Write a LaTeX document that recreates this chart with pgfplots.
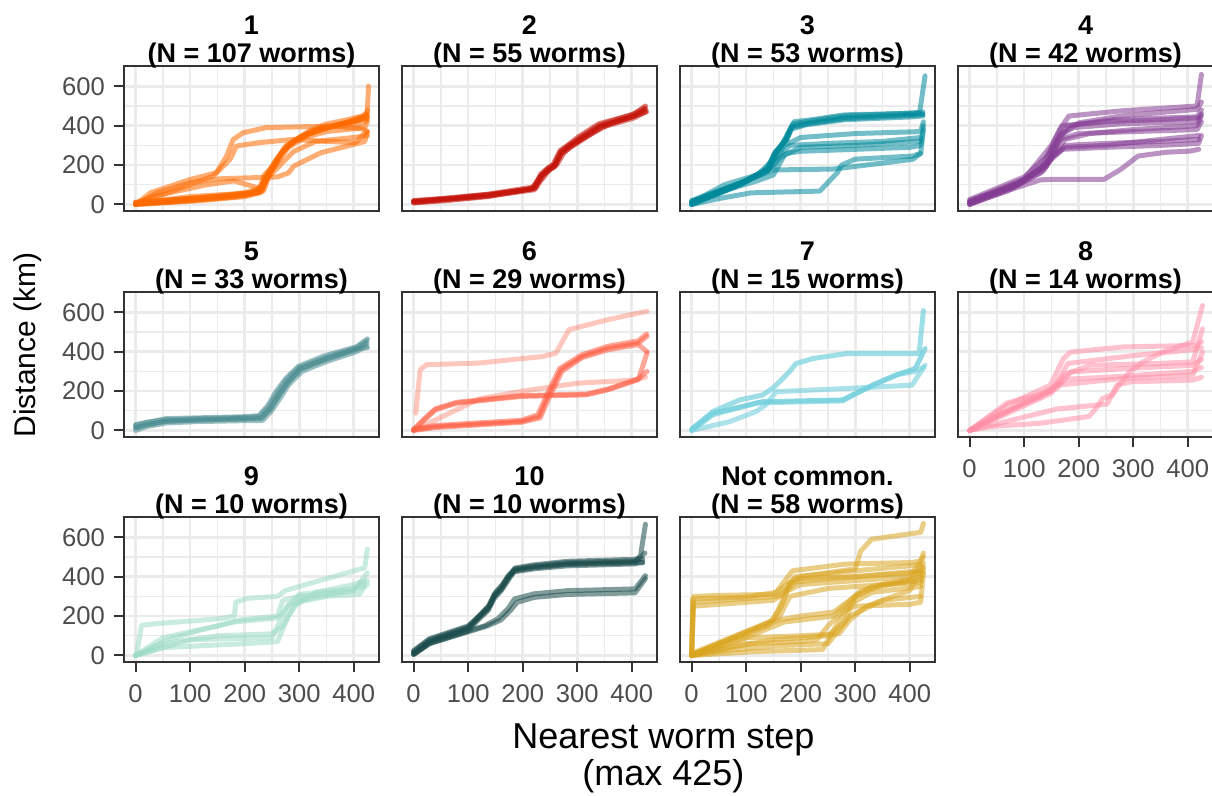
\documentclass[border=0pt]{standalone}
\usepackage{pgfplots}
\pgfplotsset{compat=1.18}
\usepackage{fontspec}
\setmainfont{Liberation Sans}
\definecolor{gridc}{HTML}{EBEBEB}
\definecolor{axc}{HTML}{333333}
\definecolor{tickc}{HTML}{4D4D4D}
\definecolor{c1}{HTML}{FF6A00}
\definecolor{c2}{HTML}{C4140A}
\definecolor{c3}{HTML}{00899A}
\definecolor{c4}{HTML}{843C93}
\definecolor{c5}{HTML}{4B8C91}
\definecolor{c6}{HTML}{FF5F45}
\definecolor{c7}{HTML}{74D0DD}
\definecolor{c8}{HTML}{FF8FA6}
\definecolor{c9}{HTML}{9EDCC6}
\definecolor{c10}{HTML}{1B4B4B}
\definecolor{c11}{HTML}{DAA520}
\pgfplotsset{
  panel/.style={
    scale only axis, width=127.5pt, height=72.5pt,
    xmin=-21.25, xmax=446.25, ymin=-33, ymax=703,
    xtick={0,100,200,300,400}, minor xtick={50,150,250,350},
    ytick={0,200,400,600}, minor ytick={100,300,500},
    grid=both,
    major grid style={color=gridc, line width=1.3pt},
    minor grid style={color=gridc, line width=0.7pt},
    axis line style={color=axc, line width=1pt},
    tick align=outside, major tick length=5pt, minor tick length=0pt,
    tick pos=left,
    every tick/.style={color=axc, line width=1pt},
    xticklabels={}, yticklabels={},
    ticklabel style={font=\fontsize{12.8}{13}\selectfont, text=tickc},
    xticklabel style={yshift=-3pt},
    yticklabel style={xshift=-1pt},
    every axis title/.style={at={(0.5,1)}, anchor=south, yshift=-1.5pt, inner sep=0pt, align=center,
      font=\fontsize{13.5}{14}\selectfont\bfseries},
    every axis plot/.append style={line width=2.5pt, opacity=0.55, line join=round, line cap=round},
  },
  hidex/.style={xtick style={draw=none}},
  hidey/.style={ytick style={draw=none}},
  showx/.style={xticklabels={0,100,200,300,400}},
  showy/.style={yticklabels={0,200,400,600}},
}
\begin{document}
\begin{tikzpicture}
\useasboundingbox (0,0) rectangle (606pt,398pt);
% ---------- Panel 1
\begin{axis}[panel, hidex, showy, at={(62pt,292.5pt)}, anchor=south west, title={1\\(N = 107 worms)}]
\addplot[c1] coordinates {(0,5)(50,12)(100,25)(150,35)(200,50)(233,76)(239,144)(251,178)(263,246)(275,297)(294,330)(318,373)(348,407)(391,432)(415,449)(422,460)};
\addplot[c1] coordinates {(0,0)(60,10)(120,20)(200,40)(228,60)(240,120)(255,200)(268,260)(285,310)(310,350)(350,390)(400,420)(420,440)(425,480)};
\addplot[c1] coordinates {(0,10)(50,20)(100,30)(200,55)(232,90)(244,160)(258,220)(272,280)(292,320)(320,360)(360,395)(410,410)(424,425)(427,600)};
\addplot[c1] coordinates {(0,8)(50,18)(150,40)(225,60)(238,130)(262,220)(280,290)(310,340)(350,370)(420,390)(425,420)};
\addplot[c1] coordinates {(0,5)(100,40)(220,60)(240,130)(265,200)(290,270)(330,320)(400,340)(425,350)};
\addplot[c1] coordinates {(0,0)(100,20)(200,45)(235,70)(245,150)(262,240)(280,300)(300,340)(340,390)(400,420)(425,440)};
\addplot[c1] coordinates {(0,3)(80,15)(180,38)(230,62)(242,140)(256,205)(270,270)(290,320)(330,375)(380,410)(423,450)};
\addplot[c1] coordinates {(0,12)(70,25)(160,45)(226,70)(236,150)(250,190)(266,255)(282,305)(305,345)(345,385)(395,425)(425,455)};
\addplot[c1] coordinates {(0,0)(27,59)(100,127)(148,161)(167,246)(179,330)(197,364)(239,390)(360,398)(415,385)(425,370)};
\addplot[c1] coordinates {(0,0)(58,59)(142,144)(173,229)(185,297)(227,314)(288,330)(336,322)(403,314)(421,364)};
\addplot[c1] coordinates {(0,0)(40,60)(100,110)(150,130)(260,140)(280,160)(290,195)(340,263)(400,305)(420,320)(425,370)};
\addplot[c1] coordinates {(0,0)(30,40)(80,70)(130,100)(180,120)(230,80)(238,140)(258,230)(280,300)(320,370)(380,410)(424,440)};
\end{axis}
% ---------- Panel 2
\begin{axis}[panel, hidex, hidey, at={(201pt,292.5pt)}, anchor=south west, title={2\\(N = 55 worms)}]
\addplot[c2] coordinates {(2,12)(50,25)(136,45)(220,80)(234,144)(246,178)(258,195)(271,263)(283,288)(307,331)(344,398)(405,449)(420,470)(426,483)};
\addplot[c2] coordinates {(0,10)(50,22)(136,42)(222,75)(232,140)(246,170)(258,190)(270,255)(285,285)(310,330)(345,392)(405,440)(425,470)};
\addplot[c2] coordinates {(0,20)(50,30)(136,52)(218,88)(235,150)(247,185)(260,205)(272,270)(283,295)(305,340)(342,405)(405,460)(425,500)};
\addplot[c2] coordinates {(0,15)(80,35)(150,55)(215,78)(236,130)(250,180)(262,200)(275,260)(290,300)(320,350)(360,410)(410,455)(427,470)};
\addplot[c2] coordinates {(0,8)(60,20)(136,40)(225,85)(238,150)(248,175)(258,200)(268,265)(280,290)(300,325)(340,395)(400,445)(422,480)};
\addplot[c2] coordinates {(0,18)(60,28)(136,48)(220,82)(233,155)(245,182)(256,205)(269,275)(281,298)(303,345)(340,410)(400,455)(424,490)};
\end{axis}
% ---------- Panel 3
\begin{axis}[panel, hidex, hidey, at={(340pt,292.5pt)}, anchor=south west, title={3\\(N = 53 worms)}]
\addplot[c3] coordinates {(1,17)(89,102)(140,178)(152,263)(171,314)(184,398)(216,415)(279,441)(406,458)(418,466)(428,653)};
\addplot[c3] coordinates {(0,10)(80,95)(130,160)(150,240)(165,300)(180,380)(210,405)(280,430)(406,445)(424,450)};
\addplot[c3] coordinates {(0,20)(90,110)(140,170)(155,270)(175,330)(185,410)(220,425)(280,450)(406,465)(424,470)};
\addplot[c3] coordinates {(0,5)(85,100)(140,180)(150,250)(170,320)(182,390)(215,410)(280,435)(406,452)(424,455)};
\addplot[c3] coordinates {(0,15)(95,115)(145,190)(158,280)(178,350)(188,420)(225,432)(280,455)(406,462)(424,460)};
\addplot[c3] coordinates {(0,0)(80,90)(140,170)(160,230)(175,260)(200,270)(300,280)(400,290)(420,300)(425,400)};
\addplot[c3] coordinates {(0,10)(60,100)(120,150)(160,250)(180,300)(250,310)(350,320)(420,340)};
\addplot[c3] coordinates {(0,0)(50,30)(109,59)(235,68)(267,161)(275,200)(300,230)(406,246)(420,260)(425,380)};
\addplot[c3] coordinates {(0,5)(80,100)(150,175)(260,180)(350,210)(406,230)(420,260)};
\addplot[c3] coordinates {(0,0)(90,100)(150,200)(170,300)(200,340)(300,360)(420,370)(425,420)};
\addplot[c3] coordinates {(0,10)(70,80)(120,120)(150,150)(170,250)(200,290)(300,300)(420,320)};
\end{axis}
% ---------- Panel 4
\begin{axis}[panel, hidex, hidey, at={(479pt,292.5pt)}, anchor=south west, title={4\\(N = 42 worms)}]
\addplot[c4] coordinates {(6,17)(88,102)(139,195)(151,280)(170,364)(202,415)(277,449)(417,483)(425,520)};
\addplot[c4] coordinates {(0,10)(80,95)(130,180)(150,290)(165,380)(182,449)(277,475)(417,500)(425,660)};
\addplot[c4] coordinates {(0,20)(90,110)(140,200)(155,260)(175,330)(220,360)(300,380)(417,400)(425,450)};
\addplot[c4] coordinates {(0,10)(80,90)(135,170)(155,250)(175,300)(250,310)(350,320)(420,330)};
\addplot[c4] coordinates {(0,0)(70,70)(130,160)(150,240)(170,280)(250,290)(350,300)(420,310)(425,350)};
\addplot[c4] coordinates {(0,5)(80,80)(130,125)(150,127)(246,127)(277,178)(309,246)(360,265)(404,271)(420,280)};
\addplot[c4] coordinates {(0,0)(90,100)(145,220)(165,330)(200,360)(300,370)(417,380)(425,420)};
\addplot[c4] coordinates {(0,15)(100,130)(150,300)(170,400)(250,420)(350,430)(420,440)};
\addplot[c4] coordinates {(0,5)(100,120)(150,230)(175,290)(250,300)(350,330)(420,350)};
\addplot[c4] coordinates {(0,12)(85,100)(140,190)(160,300)(180,400)(260,430)(417,445)(425,480)};
\addplot[c4] coordinates {(0,25)(100,140)(145,250)(165,350)(190,390)(280,410)(417,420)(425,460)};
\end{axis}
% ---------- Panel 5
\begin{axis}[panel, hidex, showy, at={(62pt,179.5pt)}, anchor=south west, title={5\\(N = 33 worms)}]
\addplot[c5] coordinates {(0,12)(20,30)(56,46)(111,52)(200,58)(230,60)(246,105)(262,173)(278,241)(302,309)(349,360)(405,410)(424,444)};
\addplot[c5] coordinates {(0,25)(20,40)(56,55)(111,60)(200,66)(228,72)(244,120)(260,190)(276,255)(300,320)(349,372)(405,420)(424,455)};
\addplot[c5] coordinates {(0,0)(20,20)(56,38)(111,45)(200,50)(232,50)(248,95)(264,160)(280,230)(305,300)(350,350)(405,400)(424,430)};
\addplot[c5] coordinates {(0,15)(56,48)(200,62)(230,64)(247,110)(262,180)(280,245)(302,315)(350,365)(405,415)(425,420)};
\addplot[c5] coordinates {(0,30)(56,60)(200,70)(226,75)(242,125)(258,200)(275,262)(298,325)(345,378)(405,425)(425,465)};
\end{axis}
% ---------- Panel 6
\begin{axis}[panel, hidex, hidey, at={(201pt,179.5pt)}, anchor=south west, title={6\\(N = 29 worms)}]
\addplot[c6] coordinates {(0,3)(40,20)(198,46)(230,71)(246,173)(270,309)(309,376)(357,419)(412,444)(428,478)};
\addplot[c6] coordinates {(0,8)(40,25)(198,52)(228,80)(244,180)(268,315)(309,385)(357,428)(412,455)(427,490)};
\addplot[c6] coordinates {(0,0)(40,15)(198,42)(232,64)(248,165)(272,300)(309,370)(357,410)(412,436)(428,400)};
\addplot[c6] coordinates {(0,0)(20,54)(40,105)(79,139)(198,173)(317,181)(357,207)(412,258)(428,393)};
\addplot[c6] coordinates {(0,5)(20,60)(40,110)(79,143)(198,177)(317,185)(357,211)(412,262)(428,300)};
\addplot[c6, opacity=0.35] coordinates {(4,88)(12,309)(24,334)(119,342)(238,376)(261,393)(285,512)(357,563)(428,605)};
\addplot[c6, opacity=0.35] coordinates {(0,0)(60,80)(120,160)(200,200)(300,240)(400,255)(425,270)};
\end{axis}
% ---------- Panel 7
\begin{axis}[panel, hidex, hidey, at={(340pt,179.5pt)}, anchor=south west, title={7\\(N = 15 worms)}]
\addplot[c7, opacity=0.7] coordinates {(2,12)(39,96)(88,155)(130,180)(148,213)(161,247)(179,297)(191,339)(222,365)(283,390)(417,390)(425,608)};
\addplot[c7, opacity=0.8] coordinates {(0,5)(39,87)(130,146)(277,155)(295,180)(332,230)(374,281)(410,314)(428,415)};
\addplot[c7, opacity=0.6] coordinates {(0,0)(70,45)(118,96)(136,130)(155,197)(283,213)(404,230)(428,331)};
\addplot[c7, opacity=0.6] coordinates {(0,0)(40,80)(120,140)(277,150)(300,185)(340,240)(380,285)(410,300)(425,320)};
\end{axis}
% ---------- Panel 8
\begin{axis}[panel, showx, hidey, at={(479pt,179.5pt)}, anchor=south west, title={8\\(N = 14 worms)}]
\addplot[c8] coordinates {(0,0)(38,20)(130,37)(219,71)(232,113)(244,163)(262,180)(274,230)(293,297)(318,348)(354,398)(409,449)(427,634)};
\addplot[c8] coordinates {(0,0)(69,129)(148,230)(172,365)(185,398)(282,424)(416,432)(425,450)};
\addplot[c8] coordinates {(0,0)(69,140)(148,197)(172,281)(221,331)(343,340)(409,348)(427,516)};
\addplot[c8] coordinates {(0,0)(100,143)(160,213)(185,297)(282,314)(409,331)(425,360)};
\addplot[c8] coordinates {(0,0)(130,180)(160,230)(282,264)(409,281)(427,398)};
\addplot[c8] coordinates {(0,0)(160,109)(252,134)(270,230)(294,247)(409,256)(425,270)};
\addplot[c8] coordinates {(0,0)(60,90)(130,170)(175,260)(250,270)(409,300)(425,320)};
\addplot[c8] coordinates {(0,0)(80,100)(150,190)(180,340)(300,380)(409,410)(425,420)};
\end{axis}
% ---------- Panel 9
\begin{axis}[panel, showx, showy, at={(62pt,67pt)}, anchor=south west, title={9\\(N = 10 worms)}]
\addplot[c9] coordinates {(2,10)(11,153)(35,161)(156,187)(181,200)(184,271)(205,290)(260,300)(275,330)(300,350)(350,390)(401,430)(420,445)(425,540)};
\addplot[c9] coordinates {(0,0)(50,90)(150,150)(190,180)(260,200)(270,280)(300,300)(400,330)(425,360)};
\addplot[c9] coordinates {(0,0)(50,60)(150,100)(250,110)(270,150)(290,250)(330,320)(400,360)(420,380)};
\addplot[c9] coordinates {(0,0)(50,40)(200,60)(260,70)(280,200)(300,280)(400,330)(425,420)};
\addplot[c9] coordinates {(0,0)(100,80)(250,90)(280,260)(350,300)(410,310)(420,350)};
\addplot[c9] coordinates {(0,0)(60,80)(120,130)(180,170)(260,190)(300,310)(400,340)(425,380)};
\end{axis}
% ---------- Panel 10
\begin{axis}[panel, showx, hidey, at={(201pt,67pt)}, anchor=south west, title={10\\(N = 10 worms)}]
\addplot[c10] coordinates {(2,10)(29,69)(100,136)(118,187)(137,237)(148,304)(161,338)(173,388)(185,439)(221,455)(282,472)(406,481)(416,506)(425,666)};
\addplot[c10] coordinates {(0,20)(29,80)(100,145)(118,195)(137,250)(148,310)(161,350)(173,400)(185,425)(221,440)(282,455)(406,465)(420,475)};
\addplot[c10] coordinates {(0,5)(29,60)(100,125)(118,180)(137,230)(148,290)(161,330)(173,380)(185,430)(221,445)(282,462)(406,470)(424,520)};
\addplot[c10] coordinates {(0,15)(29,75)(100,140)(118,190)(137,245)(148,300)(161,340)(173,395)(185,435)(221,450)(282,465)(406,475)(420,470)};
\addplot[c10] coordinates {(0,25)(29,85)(100,150)(120,200)(140,255)(150,320)(163,360)(175,410)(187,445)(221,460)(282,478)(406,488)(420,490)};
\addplot[c10] coordinates {(0,10)(29,65)(100,125)(130,150)(155,187)(173,237)(185,287)(221,313)(282,329)(406,338)(425,405)};
\addplot[c10] coordinates {(0,5)(29,60)(100,120)(135,150)(160,180)(178,230)(190,270)(221,295)(282,310)(406,318)(425,390)};
\end{axis}
% ---------- Panel 11
\begin{axis}[panel, showx, hidey, at={(340pt,67pt)}, anchor=south west, title={Not common.\\(N = 58 worms)}]
\addplot[c11] coordinates {(0,0)(2,287)(100,296)(155,321)(185,430)(282,464)(404,472)(420,480)(425,520)};
\addplot[c11] coordinates {(0,5)(80,90)(150,180)(175,330)(200,400)(250,420)(300,440)(310,530)(330,590)(420,625)(425,670)};
\addplot[c11] coordinates {(0,0)(100,60)(200,70)(230,80)(250,150)(280,230)(300,250)(400,260)(420,270)(425,420)};
\addplot[c11] coordinates {(0,0)(80,30)(160,50)(250,60)(270,130)(290,200)(350,280)(420,300)};
\addplot[c11] coordinates {(0,0)(100,120)(160,180)(200,200)(260,220)(300,300)(330,350)(420,400)};
\addplot[c11] coordinates {(0,0)(100,90)(200,100)(270,110)(290,180)(320,250)(400,330)(425,450)};
\addplot[c11] coordinates {(0,0)(3,250)(100,270)(150,280)(170,320)(200,360)(300,380)(400,400)(425,500)};
\addplot[c11] coordinates {(0,0)(60,70)(140,150)(165,250)(180,370)(250,390)(350,410)(420,420)};
\addplot[c11] coordinates {(0,0)(50,30)(150,80)(250,100)(280,170)(300,300)(350,360)(420,380)};
\addplot[c11] coordinates {(0,10)(80,100)(160,190)(180,300)(250,340)(350,360)(420,370)(425,440)};
\addplot[c11] coordinates {(0,0)(4,300)(50,305)(150,310)(170,350)(190,390)(300,400)(420,430)};
\addplot[c11] coordinates {(0,0)(120,20)(240,30)(265,150)(290,260)(330,320)(420,350)};
\addplot[c11] coordinates {(0,0)(3,270)(80,285)(160,300)(175,340)(190,400)(300,430)(420,460)};
\addplot[c11] coordinates {(0,5)(90,80)(170,170)(260,200)(280,250)(310,330)(400,380)(425,470)};
\end{axis}
% ---------- axis titles
\node[rotate=90, anchor=center, font=\fontsize{15}{15}\selectfont] at (14pt,225.5pt) {Distance (km)};
\node[anchor=north, align=center, font=\fontsize{18}{18.5}\selectfont, inner sep=0pt] at (331.75pt,36.5pt) {Nearest worm step\\(max 425)};
\end{tikzpicture}
\end{document}
